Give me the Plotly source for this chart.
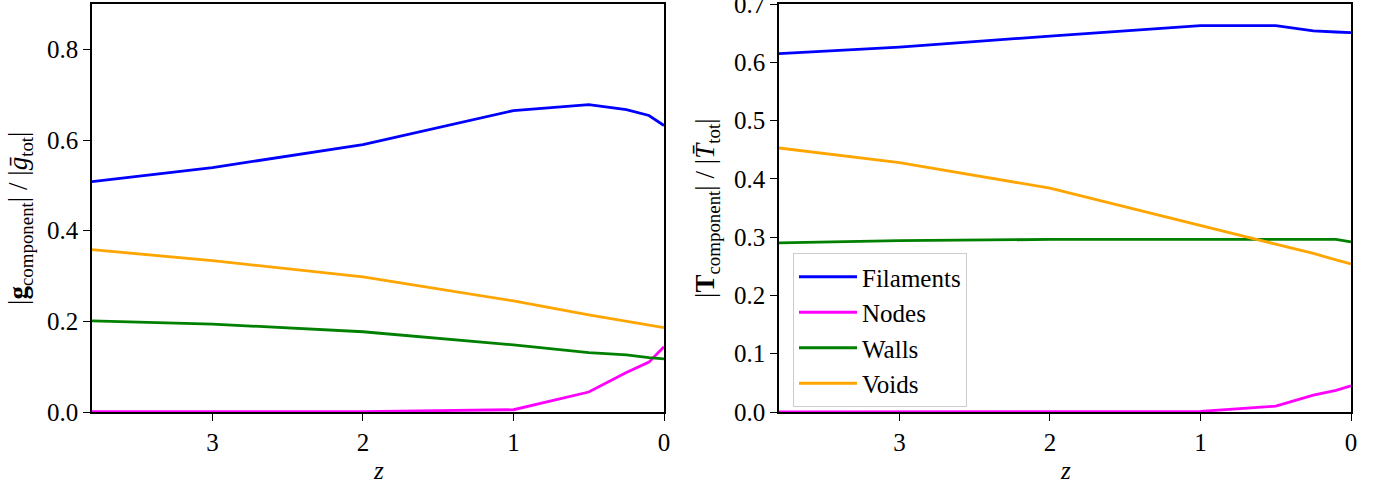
import plotly.graph_objects as go

# Redshift snapshots
z = [3.8, 3.0, 2.0, 1.0, 0.5, 0.25, 0.1, 0.0]

# |g_component| / |g_tot| per cosmic-web environment
g_filaments = [0.508, 0.539, 0.590, 0.665, 0.678, 0.667, 0.654, 0.632]
g_nodes     = [0.001, 0.001, 0.001, 0.005, 0.044, 0.087, 0.110, 0.144]
g_walls     = [0.201, 0.194, 0.177, 0.148, 0.131, 0.126, 0.120, 0.117]
g_voids     = [0.358, 0.334, 0.298, 0.245, 0.214, 0.200, 0.192, 0.186]

# |T_component| / |T_tot| per cosmic-web environment
t_filaments = [0.615, 0.626, 0.645, 0.663, 0.663, 0.654, 0.652, 0.651]
t_nodes     = [0.000, 0.000, 0.000, 0.001, 0.010, 0.029, 0.037, 0.045]
t_walls     = [0.290, 0.294, 0.296, 0.296, 0.296, 0.297, 0.296, 0.292]
t_voids     = [0.453, 0.428, 0.384, 0.320, 0.287, 0.272, 0.261, 0.254]

names = ["Filaments", "Nodes", "Walls", "Voids"]
colors = ["#0000ff", "#ff00ff", "#008000", "#ffa500"]

W, H = 1381, 489
FONT = "Liberation Serif"
FS = 25

fig = go.Figure()

for name, color, ys in zip(names, colors, [g_filaments, g_nodes, g_walls, g_voids]):
    fig.add_trace(go.Scatter(x=z, y=ys, mode="lines", name=name,
                             line=dict(color=color, width=2.8),
                             xaxis="x", yaxis="y", showlegend=False))

for name, color, ys in zip(names, colors, [t_filaments, t_nodes, t_walls, t_voids]):
    fig.add_trace(go.Scatter(x=z, y=ys, mode="lines", name=name,
                             line=dict(color=color, width=2.8),
                             xaxis="x2", yaxis="y2", showlegend=True))

axis_common = dict(
    showline=True, linecolor="black", linewidth=1.5, mirror=True,
    ticks="outside", ticklen=7, tickwidth=1.3, tickcolor="black",
    showgrid=False, zeroline=False, automargin=False,
    ticklabeloverflow="allow",
    tickfont=dict(family=FONT, size=FS, color="black"),
)

ydom = [77 / H, 485 / H]

fig.update_layout(
    width=W, height=H,
    margin=dict(l=0, r=0, t=0, b=0),
    paper_bgcolor="white", plot_bgcolor="white",
    font=dict(family=FONT, size=FS, color="black"),
    xaxis=dict(domain=[92 / W, 664 / W], range=[3.8, 0], tickvals=[3, 2, 1, 0],
               anchor="y", **axis_common),
    yaxis=dict(domain=ydom, range=[0, 0.9], tickvals=[0, 0.2, 0.4, 0.6, 0.8],
               tickformat=".1f", anchor="x", **axis_common),
    xaxis2=dict(domain=[779 / W, 1351 / W], range=[3.8, 0], tickvals=[3, 2, 1, 0],
                anchor="y2", **axis_common),
    yaxis2=dict(domain=ydom, range=[0, 0.7],
                tickvals=[0, 0.1, 0.2, 0.3, 0.4, 0.5, 0.6, 0.7],
                tickformat=".1f", anchor="x2", **axis_common),
    legend=dict(x=793 / W, y=(H - 253) / H, xanchor="left", yanchor="top",
                bgcolor="rgba(255,255,255,0.8)", bordercolor="#cccccc",
                borderwidth=1, font=dict(family=FONT, size=25, color="black"),
                tracegroupgap=0, itemwidth=58),
    showlegend=True,
)

# Axis titles
TFS = 27
fig.add_annotation(text="|<b>g</b><sub>component</sub>| / |<i>ḡ</i><sub>tot</sub>|",
                   xref="paper", yref="paper", x=20 / W, y=(H - 218) / H,
                   textangle=-90, showarrow=False, xanchor="center", yanchor="middle",
                   font=dict(family=FONT, size=TFS, color="black"))
fig.add_annotation(text="|<b>T</b><sub>component</sub>| / |<i>T\u0304</i><sub>tot</sub>|",
                   xref="paper", yref="paper", x=707 / W, y=(H - 208) / H,
                   textangle=-90, showarrow=False, xanchor="center", yanchor="middle",
                   font=dict(family=FONT, size=TFS, color="black"))
for xc in [378, 1065]:
    fig.add_annotation(text="<i>z</i>", xref="paper", yref="paper",
                       x=xc / W, y=(H - 470) / H, showarrow=False,
                       xanchor="center", yanchor="middle",
                       font=dict(family=FONT, size=FS, color="black"))

fig.write_html("out.html")
